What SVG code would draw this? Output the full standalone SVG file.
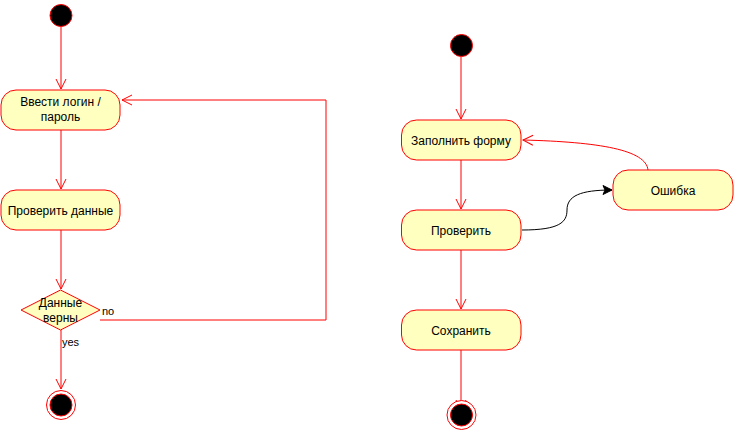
<svg xmlns="http://www.w3.org/2000/svg" width="734" height="431" viewBox="0 0 734 431">
<defs>
<style>
.act{fill:#ffffc0;stroke:#ff0000;stroke-width:1}
.st{fill:#000;stroke:#ff0000;stroke-width:1}
.fin{fill:#fff;stroke:#ff0000;stroke-width:1}
.c{fill:none;stroke:#ff0000;stroke-width:1}
.cb{fill:none;stroke:#000;stroke-width:1}
text{font-family:"Liberation Sans",Arial,sans-serif;font-size:12px;fill:#000;text-anchor:middle}
.lbl{font-size:11px;text-anchor:start}
</style>
<marker id="open" markerUnits="userSpaceOnUse" markerWidth="14" markerHeight="14" viewBox="-12 -7 14 14" refX="0" refY="0" orient="auto">
<path d="M-10,-5 L0,0 L-10,5" fill="none" stroke="#ff0000" stroke-width="1"/>
</marker>
<marker id="fill" markerUnits="userSpaceOnUse" markerWidth="14" markerHeight="14" viewBox="-12 -7 14 14" refX="0" refY="0" orient="auto">
<path d="M-9,-4.5 L0,0 L-9,4.5 L-7,0 Z" fill="#000" stroke="#000" stroke-width="1"/>
</marker>
</defs>
<g id="connectors">
<path class="c" d="M61,27 L61,89" marker-end="url(#open)"/>
<path class="c" d="M61,130 L61,189" marker-end="url(#open)"/>
<path class="c" d="M61,230 L61,289" marker-end="url(#open)"/>
<path class="c" d="M100,320 L326,320 L326,100 L122,100" marker-end="url(#open)"/>
<path class="c" d="M61,330 L61,389" marker-end="url(#open)"/>
<path class="c" d="M461,57 L461,119" marker-end="url(#open)"/>
<path class="c" d="M461,160 L461,209" marker-end="url(#open)"/>
<path class="c" d="M461,250 L461,309" marker-end="url(#open)"/>
<path class="c" d="M461,350 L461,410" marker-end="url(#open)"/>
<path class="c" d="M648,170 C646,150 600,142 523,140" marker-end="url(#open)"/>
<path class="cb" d="M522,230 C560,230 567,222 567,210 C567,196 580,190 612,190" marker-end="url(#fill)"/>
<text class="lbl" x="102" y="315">no</text>
<text class="lbl" x="62" y="346">yes</text>
</g>
<g id="start1"><circle class="st" cx="61" cy="15.5" r="11"/></g>
<g id="n1"><rect class="act" x="1" y="90" width="119" height="40" rx="15"/><text x="60.5" y="106">Ввести логин /</text><text x="60.5" y="121">пароль</text></g>
<g id="n2"><rect class="act" x="1" y="190" width="119" height="40" rx="15"/><text x="60.5" y="214.5">Проверить данные</text></g>
<g id="d1"><path class="act" d="M60.5,290 L100,310 L60.5,330 L21,310 Z"/><text x="60.5" y="306.5">Данные</text><text x="60.5" y="321.5">верны</text></g>
<g id="end1"><circle class="fin" cx="61" cy="405" r="14.5"/><circle class="st" cx="61" cy="405" r="11"/></g>
<g id="start2"><circle class="st" cx="461.5" cy="45.5" r="11"/></g>
<g id="m1"><rect class="act" x="401.5" y="120" width="119.5" height="40" rx="15"/><text x="461" y="144.5">Заполнить форму</text></g>
<g id="m2"><rect class="act" x="401.5" y="210" width="119.5" height="40" rx="15"/><text x="461" y="234.5">Проверить</text></g>
<g id="m3"><rect class="act" x="401.5" y="310" width="119.5" height="40" rx="15"/><text x="461" y="334.5">Сохранить</text></g>
<g id="m4"><rect class="act" x="613" y="170" width="120" height="40" rx="15"/><text x="673" y="194.5">Ошибка</text></g>
<g id="end2"><circle class="fin" cx="461.5" cy="415" r="14.5"/><circle class="st" cx="461.5" cy="415" r="11"/></g>
</svg>
